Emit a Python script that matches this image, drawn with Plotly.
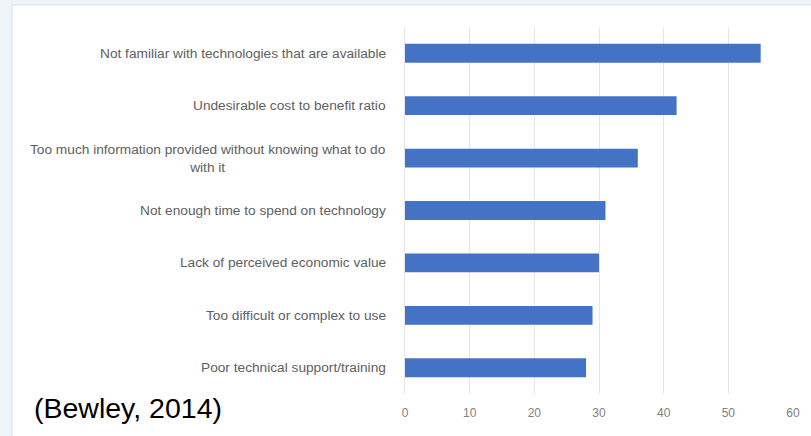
import plotly.graph_objects as go

categories = [
    "Not familiar with technologies that are available",
    "Undesirable cost to benefit ratio",
    "Too much information provided without knowing what to do<br>with it",
    "Not enough time to spend on technology",
    "Lack of perceived economic value",
    "Too difficult or complex to use",
    "Poor technical support/training",
]
values = [55, 42, 36, 31, 30, 29, 28]
x_ticks = [0, 10, 20, 30, 40, 50, 60]

W, H = 811, 436
ML, MR, MT, MB = 405, 18, 27, 42
pw = W - ML - MR
ph = H - MT - MB

fig = go.Figure()
fig.add_trace(go.Bar(
    x=values, y=categories, orientation="h",
    marker=dict(color="#4472C4", line=dict(width=0)),
    hoverinfo="x+y",
))

# category labels as annotations (to allow centered multi-line text)
for c in categories:
    fig.add_annotation(
        x=-17 / pw, xref="paper", y=c, yref="y",
        text=c, showarrow=False, xanchor="right", align="center",
        font=dict(family="Liberation Sans, Arial", size=13.7, color="#606060"),
    )

fig.add_annotation(
    x=(32 - ML) / pw, xref="paper", y=(H - 408 - MB) / ph, yref="paper",
    text="(Bewley, 2014)", showarrow=False, xanchor="left", yanchor="middle",
    font=dict(family="Liberation Sans, Arial", size=28.5, color="#000000"),
)

# card background
fig.add_shape(type="rect", xref="paper", yref="paper", layer="below",
              x0=(12 - ML) / pw, x1=(W + 5 - ML) / pw,
              y0=(H - MB - (H + 5)) / ph, y1=(H - MB - 5) / ph,
              fillcolor="#ffffff", line=dict(color="#dde3e6", width=1))

fig.update_layout(
    width=W, height=H,
    margin=dict(l=ML, r=MR, t=MT, b=MB),
    paper_bgcolor="#eef5f9", plot_bgcolor="rgba(0,0,0,0)",
    bargap=0.64, showlegend=False,
    xaxis=dict(range=[0, 60], tickvals=x_ticks, showgrid=True, gridcolor="#e6e6e6",
               zeroline=False, ticks="", ticklabelstandoff=10,
               tickfont=dict(family="Liberation Sans, Arial", size=12, color="#808080")),
    yaxis=dict(autorange="reversed", showticklabels=False, showgrid=False, zeroline=False,
               showline=True, linecolor="#e6e6e6", ticks=""),
)

fig.write_html("out.html", config={"displayModeBar": False},
               post_script="document.body.style.margin='0';")
